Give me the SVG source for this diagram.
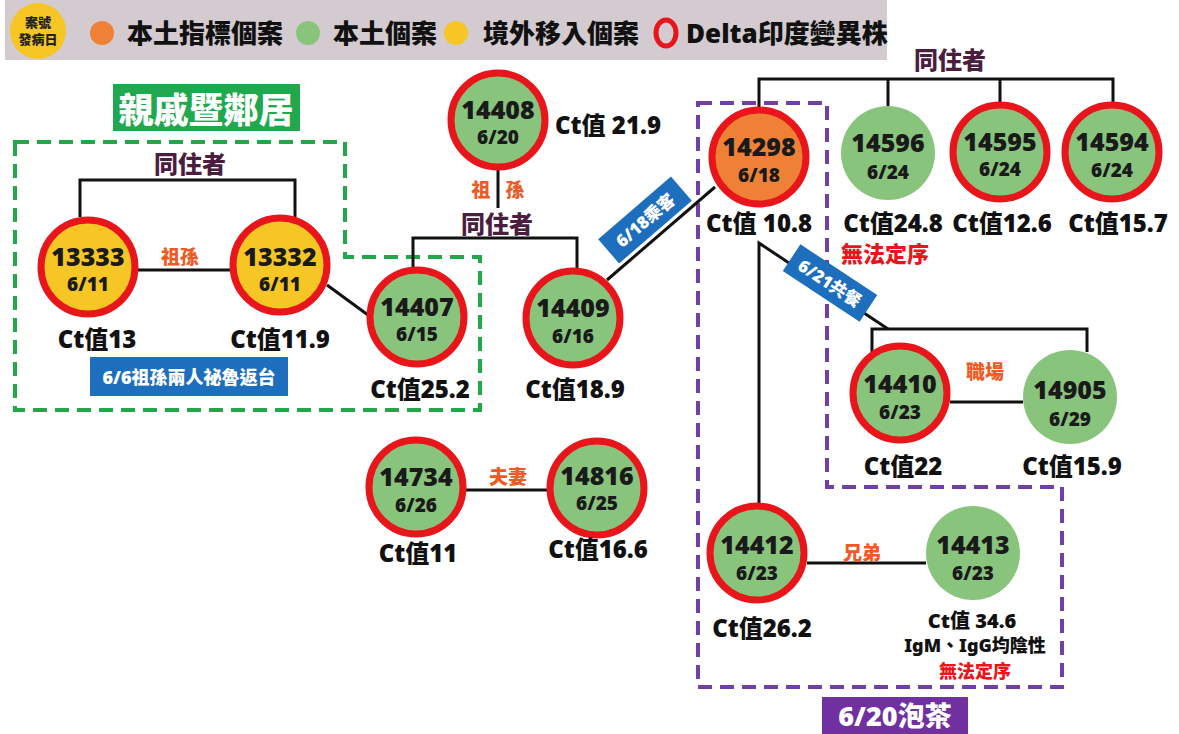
<svg xmlns="http://www.w3.org/2000/svg" width="1179" height="734" viewBox="0 0 1179 734">
<style>
text{font-family:"Noto Sans","Noto Sans CJK TC",sans-serif;font-weight:900;dominant-baseline:central;text-anchor:middle}
.ring{stroke:#e8161b;stroke-width:7}
.g{fill:#89c47d}.y{fill:#f5c624}.o{fill:#ee8135}
.num{font-size:25px;fill:#1a1a1a}
.dt{font-size:19px;fill:#1a1a1a}
.ct{font-size:24px;fill:#111}
.rel{font-size:19px;fill:#ee5a24;font-family:"Noto Sans CJK TC",sans-serif}
.lv{font-size:24px;fill:#4b1d3f;font-family:"Noto Sans CJK TC",sans-serif}
.nf{font-size:22px;fill:#e8161b;font-family:"Noto Sans CJK TC",sans-serif}
.leg{font-size:26px;fill:#111;text-anchor:start}
.ln{fill:none;stroke:#111;stroke-width:3}
.tagt{font-size:17px;fill:#fff}
</style>
<rect width="1179" height="734" fill="#fff"/>
<g id="legend">
<rect x="5" y="0" width="882" height="60" fill="#d3cbd0"/>
<circle cx="38" cy="31" r="28" fill="#f5c624"/>
<text x="38" y="22" style="font-size:13px;fill:#222">案號</text>
<text x="38" y="39" style="font-size:13px;fill:#222">發病日</text>
<circle cx="102" cy="33" r="12" fill="#ee8135"/>
<text x="127" y="33" class="leg">本土指標個案</text>
<circle cx="308" cy="33" r="12" fill="#89c47d"/>
<text x="333" y="33" class="leg">本土個案</text>
<circle cx="456" cy="33" r="12" fill="#f5c624"/>
<text x="483" y="33" class="leg">境外移入個案</text>
<ellipse cx="666" cy="33" rx="10" ry="13" fill="none" stroke="#e8161b" stroke-width="5"/>
<text x="686" y="33" class="leg">Delta印度變異株</text>
</g>
<g id="groups">
<rect x="113" y="84" width="187" height="47" fill="#1fa84d"/>
<text x="206" y="107" style="font-size:35px;fill:#fff;font-family:'Noto Sans CJK TC',sans-serif">親戚暨鄰居</text>
<path d="M15,142 H345 V257 H480 V410 H15 Z" fill="none" stroke="#22a84b" stroke-width="4" stroke-dasharray="14,8"/>
<rect x="90" y="357" width="198" height="39" fill="#1d6fbe"/>
<text x="189" y="377" style="font-size:18px;fill:#fff">6/6祖孫兩人祕魯返台</text>
<path d="M698,103 H827 V487 H1062 V687 H698 Z" fill="none" stroke="#7040a8" stroke-width="4" stroke-dasharray="14,8"/>
<rect x="822" y="697" width="146" height="37" fill="#7030a0"/>
<text x="895" y="715" style="font-size:27px;fill:#fff">6/20泡茶</text>
</g>
<g id="connectors">
<path class="ln" d="M80,217 V180 H295 V217"/>
<line class="ln" x1="138" y1="270" x2="230" y2="270"/>
<line class="ln" x1="327" y1="285" x2="368" y2="315"/>
<path class="ln" d="M413,267 V238 H577 V268"/>
<line class="ln" x1="498" y1="170" x2="498" y2="208"/>
<line class="ln" x1="607" y1="280" x2="715" y2="187"/>
<path class="ln" d="M759,107 V79 H1113 V102 M888,79 V106 M1000,79 V102"/>
<path class="ln" d="M759,503 V243 L888,329"/>
<path class="ln" d="M872,355 V329 H1087 V352"/>
<line class="ln" x1="950" y1="402" x2="1023" y2="402"/>
<line class="ln" x1="463" y1="490" x2="548" y2="490"/>
<line class="ln" x1="807" y1="563" x2="926" y2="563"/>
<g transform="translate(645,220) rotate(-40.7)">
<rect x="-48" y="-16" width="96" height="32" fill="#1d6fbe"/>
<text x="0" y="0" class="tagt">6/18乘客</text>
</g>
<g transform="translate(830,283) rotate(33.4)">
<rect x="-46" y="-16" width="92" height="32" fill="#1d6fbe"/>
<text x="0" y="0" class="tagt">6/21共餐</text>
</g>
</g>
<g id="labels">
<text x="190" y="162" class="lv">同住者</text>
<text x="180" y="255" class="rel">祖孫</text>
<text x="497" y="222" class="lv">同住者</text>
<text x="481" y="188" class="rel">祖</text>
<text x="515" y="188" class="rel">孫</text>
<text x="950" y="58" class="lv">同住者</text>
<text x="985" y="370" class="rel">職場</text>
<text x="508" y="475" class="rel">夫妻</text>
<text x="862" y="551" class="rel">兄弟</text>
</g>
<g id="n13333"><circle cx="88" cy="267" r="47" class="y ring"/><text x="88" y="256" class="num">13333</text><text x="88" y="284" class="dt">6/11</text><text x="97" y="338" class="ct">Ct值13</text></g>
<g id="n13332"><circle cx="280" cy="265" r="47" class="y ring"/><text x="280" y="256" class="num">13332</text><text x="280" y="284" class="dt">6/11</text><text x="280" y="338" class="ct">Ct值11.9</text></g>
<g id="n14407"><circle cx="417" cy="317" r="47" class="g ring"/><text x="417" y="306" class="num">14407</text><text x="417" y="334" class="dt">6/15</text><text x="420" y="388" class="ct">Ct值25.2</text></g>
<g id="n14408"><circle cx="498" cy="120" r="47" class="g ring"/><text x="498" y="109" class="num">14408</text><text x="498" y="137" class="dt">6/20</text><text x="555" y="124" class="ct" style="text-anchor:start">Ct值 21.9</text></g>
<g id="n14409"><circle cx="573" cy="318" r="47" class="g ring"/><text x="573" y="307" class="num">14409</text><text x="573" y="336" class="dt">6/16</text><text x="575" y="388" class="ct">Ct值18.9</text></g>
<g id="n14298"><circle cx="759" cy="157" r="47" class="o ring"/><text x="759" y="146" class="num">14298</text><text x="759" y="175" class="dt">6/18</text><text x="759" y="222" class="ct">Ct值 10.8</text></g>
<g id="n14596"><circle cx="888" cy="153" r="47" class="g"/><text x="888" y="142" class="num">14596</text><text x="888" y="172" class="dt">6/24</text><text x="893" y="222" class="ct">Ct值24.8</text><text x="885" y="252" class="nf">無法定序</text></g>
<g id="n14595"><circle cx="1000" cy="152" r="47" class="g ring"/><text x="1000" y="141" class="num">14595</text><text x="1000" y="169" class="dt">6/24</text><text x="1002" y="222" class="ct">Ct值12.6</text></g>
<g id="n14594"><circle cx="1112" cy="152" r="47" class="g ring"/><text x="1112" y="141" class="num">14594</text><text x="1112" y="170" class="dt">6/24</text><text x="1118" y="222" class="ct">Ct值15.7</text></g>
<g id="n14410"><circle cx="900" cy="393" r="47" class="g ring"/><text x="900" y="383" class="num">14410</text><text x="900" y="412" class="dt">6/23</text><text x="903" y="465" class="ct">Ct值22</text></g>
<g id="n14905"><circle cx="1070" cy="397" r="47" class="g"/><text x="1070" y="389" class="num">14905</text><text x="1070" y="419" class="dt">6/29</text><text x="1072" y="465" class="ct">Ct值15.9</text></g>
<g id="n14734"><circle cx="416" cy="487" r="47" class="g ring"/><text x="416" y="476" class="num">14734</text><text x="416" y="505" class="dt">6/26</text><text x="418" y="552" class="ct">Ct值11</text></g>
<g id="n14816"><circle cx="597" cy="488" r="47" class="g ring"/><text x="597" y="475" class="num">14816</text><text x="597" y="503" class="dt">6/25</text><text x="598" y="548" class="ct">Ct值16.6</text></g>
<g id="n14412"><circle cx="757" cy="553" r="47" class="g ring"/><text x="757" y="544" class="num">14412</text><text x="757" y="573" class="dt">6/23</text><text x="762" y="627" class="ct">Ct值26.2</text></g>
<g id="n14413"><circle cx="973" cy="553" r="47" class="g"/><text x="973" y="544" class="num">14413</text><text x="973" y="573" class="dt">6/23</text><text x="972" y="620" style="font-size:20px;fill:#111">Ct值 34.6</text><text x="975" y="645" style="font-size:18px;fill:#111">IgM、IgG均陰性</text><text x="975" y="670" class="nf" style="font-size:18px">無法定序</text></g>
</svg>
